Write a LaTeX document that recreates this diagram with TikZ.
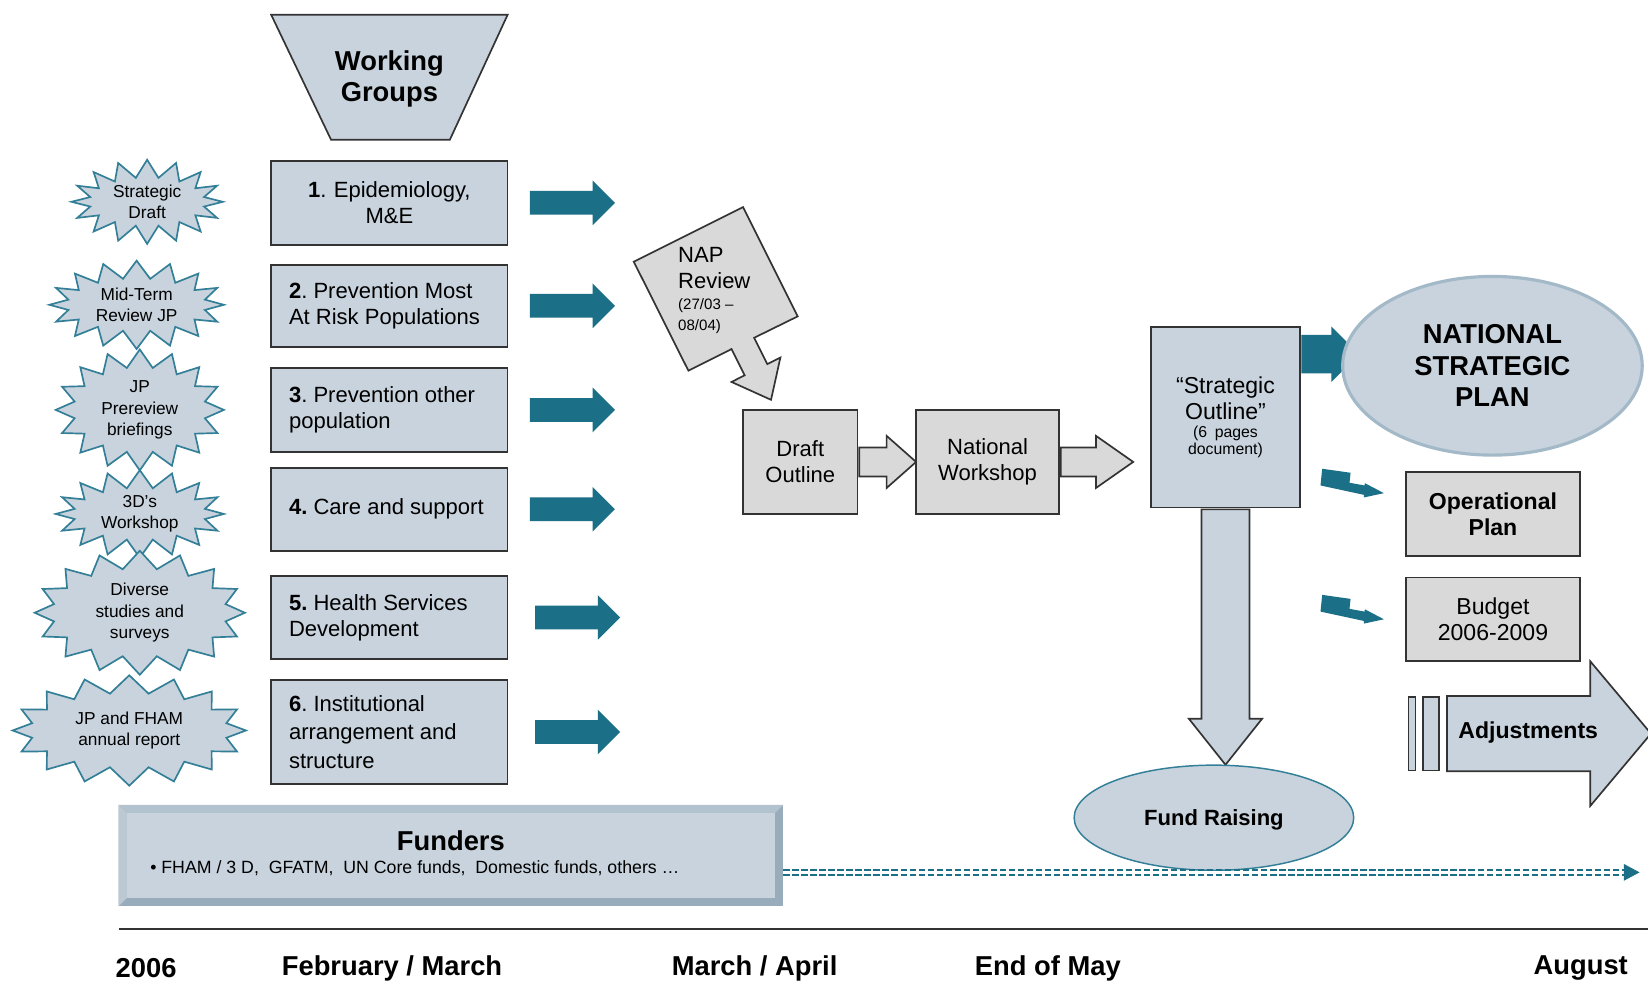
\documentclass[tikz,border=0pt]{standalone}
\usepackage{fontspec}
\setmainfont{Liberation Sans}
\usepackage{tikz}
\usetikzlibrary{arrows.meta,positioning,shapes.geometric,shapes.symbols,shapes.arrows}

\definecolor{wgblue}{HTML}{C8D3DD}
\definecolor{bevellight}{HTML}{B2C2CE}
\definecolor{bevelside}{HTML}{BCC9D3}
\definecolor{beveldark}{HTML}{98ACBB}
\definecolor{plangrey}{HTML}{D9D9D9}
\definecolor{planteal}{HTML}{1B6F87}
\definecolor{burstteal}{HTML}{327F97}
\definecolor{outline}{HTML}{333333}
\definecolor{nsprim}{HTML}{A3B9C8}

\newlength\pxu
\setlength\pxu{0.025cm}
\newcommand\fsz[2]{\fontsize{#1pt}{#2pt}\selectfont}
\frenchspacing

\begin{document}
\begin{tikzpicture}[x=0.025cm, y=-0.025cm,
  wgbox/.style={draw=outline, fill=wgblue, line width=1.6\pxu, minimum width=225\pxu,
    text width=191\pxu, inner xsep=17\pxu, inner ysep=0pt, align=flush left, font=\fsz{14.9}{17.8}},
  greybox/.style={draw=outline, fill=plangrey, line width=1.6\pxu, align=center,
    inner sep=0pt, font=\fsz{14.9}{17.8}},
  burst/.style={starburst, starburst points=16, starburst point height=0.42cm, random starburst=0,
    draw=burstteal, fill=wgblue, line width=1.6\pxu, align=center, inner sep=0pt, font=\fsz{11.7}{14.4}},
  wgarrow/.style={single arrow, fill=planteal, inner xsep=0pt, inner ysep=11\pxu, minimum width=42\pxu,
    minimum height=81\pxu, single arrow head extend=10\pxu, single arrow tip angle=90},
  greyarrow/.style={single arrow, draw=outline, fill=plangrey, line width=1.6\pxu, inner xsep=0pt,
    inner ysep=13\pxu, minimum width=48\pxu, single arrow head extend=11\pxu, anchor=west},
  month/.style={font=\bfseries\fsz{18.5}{21}},
  pics/zap/.style={code={
    \fill[planteal] (0,0) -- (27,3.8) -- (26,13.3) -- (40.3,15.9) -- (40.6,13.7) -- (58.7,23.2)
      -- (39.7,27.3) -- (39.7,24.8) -- (-1.6,15.9) -- cycle;}}]

\useasboundingbox (0,0) rectangle (1568,936);
\fill[white] (0,0) rectangle (1568,936);

% working groups column
\filldraw[draw=outline, fill=wgblue, line width=1.6\pxu] (258,14) -- (483,14) -- (428,133) -- (315,133) -- cycle;
\node[font=\bfseries\fsz{18.5}{21.3}, align=center] (wghead) at (370.5,75) {Working\\Groups};

\node[wgbox, align=center, minimum height=80\pxu] (wg1) at (370.5,193) {\textbf{1}. Epidemiology,\\M\&E};
\node[wgbox, minimum height=78\pxu] (wg2) at (370.5,291) {\textbf{2}. Prevention Most\\At Risk Populations};
\node[wgbox, minimum height=80\pxu] (wg3) at (370.5,390) {\textbf{3}. Prevention other\\population};
\node[wgbox, minimum height=79\pxu] (wg4) at (370.5,484.5) {\textbf{4.} Care and support};
\node[wgbox, minimum height=79\pxu] (wg5) at (370.5,587.5) {\textbf{5.} Health Services\\Development};
\node[wgbox, minimum height=99\pxu, font=\fsz{14.9}{19}] (wg6) at (370.5,696.5) {\textbf{6}. Institutional\\arrangement and\\structure};

\node[wgarrow, right=20\pxu of wg1] (go1) {};
\node[wgarrow, right=20\pxu of wg2] (go2) {};
\node[wgarrow, right=20\pxu of wg3] (go3) {};
\node[wgarrow, right=20\pxu of wg4] (go4) {};
\node[wgarrow, right=25\pxu of wg5] (go5) {};
\node[wgarrow, right=25\pxu of wg6] (go6) {};

% inputs
\node[burst, minimum width=144\pxu, minimum height=80\pxu] (src1) at (140,192) {Strategic\\Draft};
\node[burst, minimum width=166\pxu, minimum height=84\pxu] (src2) at (130,290) {Mid-Term\\Review JP};
\node[burst, minimum width=160\pxu, minimum height=115\pxu] (src3) at (133,390) {JP\\Prereview\\briefings};
\node[burst, minimum width=160\pxu, minimum height=78\pxu] (src4) at (133,489) {3D’s\\Workshop};
\node[burst, minimum width=200\pxu, minimum height=118\pxu] (src5) at (133,583) {Diverse\\studies and\\surveys};
\node[burst, minimum width=222\pxu, minimum height=105\pxu] (src6) at (123,695) {JP and FHAM\\annual report};

% NAP review callout
\filldraw[draw=outline, fill=plangrey, line width=1.6\pxu] (603,249) -- (707,197) -- (759,301)
  -- (717.5,321.4) -- (730,346.4) -- (742.5,340.2) -- (733.6,380.4) -- (696,363.4)
  -- (708.5,357.1) -- (696,332.1) -- (655,352.7) -- cycle;
\node[anchor=north west, text width=90\pxu, align=flush left, inner sep=0pt, font=\fsz{14.9}{17.8}] (nap) at (645,235)
  {NAP\\Review\par\fsz{10.2}{14}(27/03 –\\08/04)\par};

\node[greybox, minimum width=109\pxu, minimum height=99\pxu] (draft) at (761.5,439.5) {Draft\\Outline};
\node[greyarrow, minimum height=54\pxu, single arrow tip angle=83] (toworkshop) at (draft.east) {};
\node[greybox, minimum width=136\pxu, minimum height=99\pxu, right=54\pxu of draft] (workshop) {National\\Workshop};
\node[greyarrow, minimum height=69\pxu, single arrow tip angle=70] (tooutline) at (workshop.east) {};

% strategic outline and its results
\node[draw=outline, fill=wgblue, line width=1.6\pxu, minimum width=142\pxu, minimum height=172\pxu,
  text width=130\pxu, align=center, inner sep=0pt, font=\fsz{15.6}{17.8}] (strat) at (1166,397)
  {“Strategic\\Outline”\par\fsz{10.7}{12}(6 pages\\document)\par\vspace{11pt}};
\node[single arrow, rotate=-90, draw=outline, fill=wgblue, line width=1.6\pxu, inner xsep=0pt, inner ysep=22\pxu,
  minimum width=68\pxu, single arrow head extend=12\pxu, minimum height=243\pxu,
  single arrow tip angle=77, anchor=west] (toraise) at (strat.south) {};
\node[ellipse, draw=burstteal, fill=wgblue, line width=1.4\pxu, minimum width=266\pxu, minimum height=100\pxu,
  font=\bfseries\fsz{14.9}{17.8}, text depth=-7pt] (raise) at (1155,778) {Fund Raising};

\node[single arrow, fill=planteal, inner xsep=0pt, inner ysep=18\pxu, minimum width=52\pxu, single arrow head extend=8\pxu,
  minimum height=55\pxu, anchor=west] (toplan) at ([yshift=60\pxu]strat.east) {};
\node[ellipse, draw=nsprim, fill=wgblue, line width=3\pxu, minimum width=285\pxu, minimum height=170\pxu,
  align=center, font=\bfseries\fsz{18.5}{21.3}] (plan) at (1420,348) {NATIONAL\\STRATEGIC\\PLAN};

\pic at (1258,446) {zap};
\pic at (1258,566) {zap};
\node[greybox, minimum width=165\pxu, minimum height=80\pxu, font=\bfseries\fsz{15.6}{17.8}] (oper) at (1420.5,489) {Operational\\Plan};
\node[greybox, minimum width=165\pxu, minimum height=79\pxu, font=\fsz{15.6}{17.8}, below=19\pxu of oper] (budget) {Budget\\2006-2009};

\filldraw[draw=outline, fill=wgblue, line width=1.4\pxu] (1340,663) rectangle (1347,733);
\filldraw[draw=outline, fill=wgblue, line width=1.4\pxu] (1354,663) rectangle (1369,733);
\node[single arrow, draw=outline, fill=wgblue, line width=1.6\pxu, inner xsep=0pt, inner ysep=35\pxu, minimum width=136\pxu,
  single arrow head extend=33\pxu, single arrow tip angle=100, minimum height=194\pxu, anchor=west] (adjust) at (1376,698) {};
\node[font=\bfseries\fsz{15.6}{17.8}] (adjusttext) at (1454,697) {Adjustments};

% funders
\node[fill=beveldark, minimum width=632\pxu, minimum height=96\pxu, inner sep=0pt] (funders) at (429,814) {};
\fill[bevellight] (funders.north west) -- (funders.north east) -- ([shift={(-8,8)}]funders.north east)
  -- ([shift={(8,8)}]funders.north west) -- cycle;
\fill[bevelside] (funders.north west) -- ([shift={(8,8)}]funders.north west)
  -- ([shift={(8,-8)}]funders.south west) -- (funders.south west) -- cycle;
\fill[wgblue] ([shift={(8,8)}]funders.north west) rectangle ([shift={(-8,-8)}]funders.south east);
\node[font=\bfseries\fsz{18.5}{21}] (fundtitle) at (429,800) {Funders};
\node[anchor=west, font=\fsz{12}{14}] (fundlist) at (138,826)
  {• FHAM / 3 D,\ \ GFATM,\ \ UN Core funds,\ \ Domestic funds, others …};

\coordinate (fundtip) at (1560,830);
\draw[planteal, line width=1.5\pxu, double=white, double distance=3\pxu, dash pattern=on 4.3pt off 1.8pt]
  (funders.east |- fundtip) -- ([xshift=-14\pxu]fundtip);
\fill[planteal] (fundtip) -- ++(-15,-8) -- ++(0,16) -- cycle;

% time line
\coordinate (tlstart) at (113,884);
\coordinate (tlend) at (1568,884);
\draw[outline, line width=2\pxu] (tlstart) -- (tlend);
\node[month] (m2006) at (139,921) {2006};
\node[month] (mfeb) at (373,921) {February / March};
\node[month] (mmar) at (718,921) {March / April};
\node[month] (mmay) at (997,921) {End of May};
\node[month] (maug) at (1504,921) {August};
\end{tikzpicture}
\end{document}
